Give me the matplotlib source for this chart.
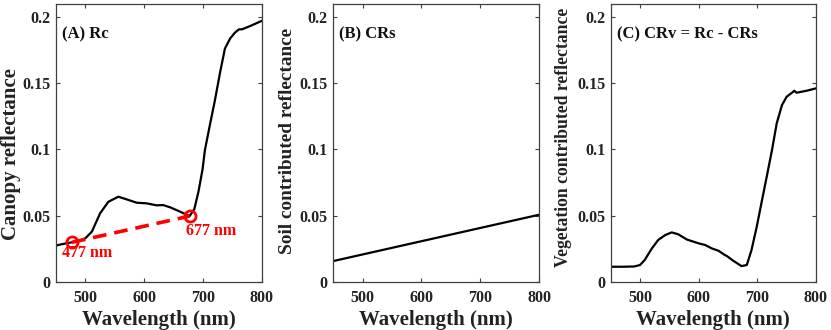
import numpy as np
import matplotlib
matplotlib.use("Agg")
import matplotlib.pyplot as plt
from matplotlib.ticker import FixedLocator, FuncFormatter

plt.rcParams['font.family'] = ['Liberation Serif', 'DejaVu Serif']
plt.rcParams['font.weight'] = 'bold'

# Canopy reflectance Rc
wl_rc = [450, 460, 477, 490, 500, 511, 525, 539, 556, 570, 587, 604, 621, 632,
         644, 661, 677, 685, 692, 699, 703, 712, 720, 729, 737, 746, 754, 761,
         766, 780, 800]
rc = [0.0275, 0.0285, 0.0299, 0.0312, 0.033, 0.038, 0.0518, 0.0605, 0.0643,
      0.0623, 0.0598, 0.0593, 0.0578, 0.058, 0.0563, 0.053, 0.0497, 0.055,
      0.068, 0.085, 0.0995, 0.1196, 0.137, 0.1585, 0.176, 0.1837, 0.188,
      0.1905, 0.1905, 0.193, 0.197]

# Soil contributed reflectance CRs (straight line)
wl_crs = [450, 800]
crs = [0.0158, 0.0507]

# Vegetation contributed reflectance CRv
wl_crv = [450, 470, 490, 500, 508, 520, 531, 543, 554, 565, 580, 601, 611,
          622, 634, 644, 648, 659, 673, 682, 690, 699, 708, 716, 725, 733,
          742, 750, 759, 763, 767, 784, 800]
crv = [0.0115, 0.0115, 0.0117, 0.0128, 0.0166, 0.0252, 0.0317, 0.0354,
       0.0374, 0.036, 0.032, 0.029, 0.0279, 0.0254, 0.0235, 0.0205, 0.0196,
       0.016, 0.012, 0.0128, 0.024, 0.0417, 0.0618, 0.0794, 0.0995, 0.1196,
       0.1334, 0.1397, 0.1427, 0.1442, 0.1427, 0.1442, 0.146]

# Endpoints of the continuum line
cont_wl = [477, 677]
cont_val = [0.0299, 0.0497]

xticks = [500, 600, 700, 800]
yticks = [0, 0.05, 0.1, 0.15, 0.2]

fig = plt.figure(figsize=(8.31, 3.30), dpi=100)
W, H = 831, 330
boxes = [(56, 262), (333.3, 539), (610.7, 816)]
axes = []
for (l, r) in boxes:
    ax = fig.add_axes([l / W, 1 - 282 / H, (r - l) / W, 278 / H])
    axes.append(ax)

spine_col = '#404040'
ylabels = ['Canopy reflectance', 'Soil contributed reflectance',
           'Vegetation contributed reflectance']
titles = ['(A) Rc', '(B) CRs', '(C) CRv = Rc - CRs']
ylab_pos = [(-0.168, 0.46), (-0.18, 0.507), (-0.19, 0.522)]
ylab_size = [15, 13.9, 12.7]

for ax, yl, t, (lx, ly), ls in zip(axes, ylabels, titles, ylab_pos, ylab_size):
    ax.set_xlim(450, 800)
    ax.set_ylim(0, 0.2096)
    ax.xaxis.set_major_locator(FixedLocator(xticks))
    ax.yaxis.set_major_locator(FixedLocator(yticks))
    ax.yaxis.set_major_formatter(FuncFormatter(lambda v, p: '%g' % v))
    ax.tick_params(direction='in', length=3, width=0.8, colors=spine_col,
                   labelcolor='#222222', labelsize=11.5, top=True, right=True)
    ax.tick_params(axis='x', pad=6)
    ax.tick_params(axis='y', pad=4)
    for lab in ax.get_xticklabels() + ax.get_yticklabels():
        lab.set_fontweight('bold')
    for s in ax.spines.values():
        s.set_color(spine_col)
        s.set_linewidth(0.9)
    ax.set_xlabel('Wavelength (nm)', fontsize=15, fontweight='bold', color='#222222')
    ax.set_ylabel(yl, fontsize=ls, fontweight='bold', color='#222222')
    ax.xaxis.set_label_coords(0.5, -0.1)
    ax.yaxis.set_label_coords(lx, ly)
    ax.text(0.03, 0.89, t, transform=ax.transAxes, fontsize=12,
            fontweight='bold', color='#111111', va='center', ha='left')

axes[0].plot(wl_rc, rc, color='black', lw=1.6)
axes[0].plot(cont_wl, cont_val, color='red', lw=2.6, dashes=(3.8, 2.2),
             marker='o', markersize=8, markerfacecolor='none',
             markeredgewidth=2, markeredgecolor='red')
axes[0].text(461, 0.0222, '477 nm', color='red', fontsize=11.5,
             fontweight='bold', va='center', ha='left')
axes[0].text(671, 0.0383, '677 nm', color='red', fontsize=11.5,
             fontweight='bold', va='center', ha='left')

axes[1].plot(wl_crs, crs, color='black', lw=1.6)
axes[2].plot(wl_crv, crv, color='black', lw=1.6)

fig.savefig('out.png', dpi=100)
